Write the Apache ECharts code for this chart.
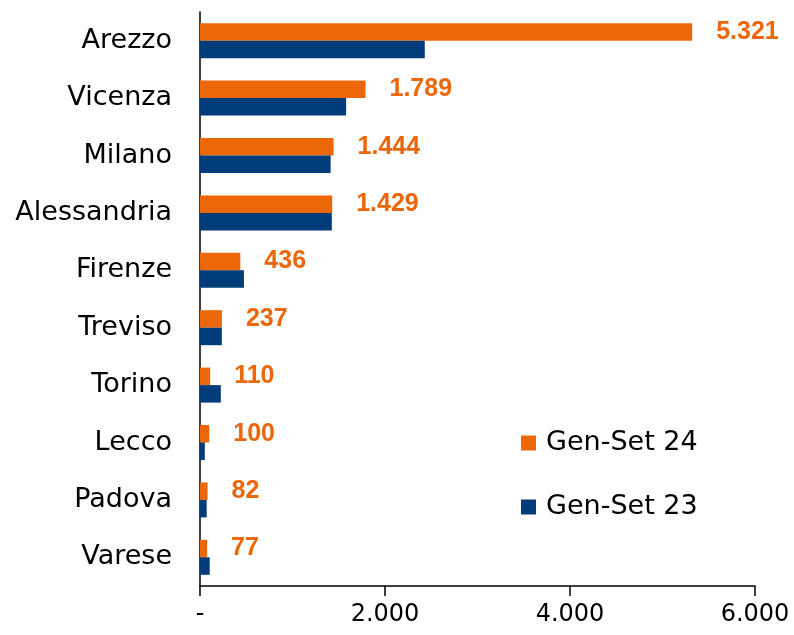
<!DOCTYPE html>
<html>
<head>
<meta charset="utf-8">
<script src="https://cdn.jsdelivr.net/npm/echarts@6/dist/echarts.min.js"></script>
<style>
  * { margin: 0; padding: 0; }
  body { background: #fff; }
</style>
</head>
<body>
<div id="main" style="width:794px;height:635px;"></div>
<script>
  // province, top to bottom
  var cities = ['Arezzo', 'Vicenza', 'Milano', 'Alessandria', 'Firenze', 'Treviso', 'Torino', 'Lecco', 'Padova', 'Varese'];
  var genSet24 = [5321, 1789, 1444, 1429, 436, 237, 110, 100, 82, 77];
  var genSet23 = [2430, 1580, 1412, 1425, 475, 236, 225, 52, 72, 105];
  var xTicks = [0, 2000, 4000, 6000];

  var orange = '#EC6707';
  var blue = '#003B7A';
  var font = 'DejaVu Sans';

  function fmt(v) {
    if (v === 0) return '-';
    return String(v).replace(/\B(?=(\d{3})+(?!\d))/g, '.');
  }

  var chart = echarts.init(document.getElementById('main'));
  chart.setOption({
    animation: false,
    grid: { left: 200, right: 39, top: 12, bottom: 49, containLabel: false },
    legend: {
      orient: 'vertical',
      left: 516,
      top: 423,
      icon: 'rect',
      itemWidth: 15,
      itemHeight: 15,
      itemGap: 34,
      textStyle: { fontFamily: font, fontSize: 27, color: '#000', lineHeight: 30, padding: [0, 0, 0, 5] },
      data: ['Gen-Set 24', 'Gen-Set 23']
    },
    xAxis: {
      type: 'value',
      min: xTicks[0],
      max: xTicks[xTicks.length - 1],
      interval: 2000,
      splitLine: { show: false },
      axisLine: { show: true, lineStyle: { color: '#000', width: 1.5 } },
      axisTick: { show: true, length: 10, lineStyle: { color: '#000', width: 1.5 } },
      axisLabel: { fontFamily: font, fontSize: 24, color: '#000', margin: 17, formatter: fmt }
    },
    yAxis: {
      type: 'category',
      inverse: true,
      data: cities,
      axisLine: { show: true, lineStyle: { color: '#000', width: 1.5 } },
      axisTick: { show: false },
      axisLabel: { fontFamily: font, fontSize: 27, color: '#000', margin: 28 }
    },
    series: [
      {
        name: 'Gen-Set 24',
        type: 'bar',
        data: genSet24,
        barGap: '0%',
        barCategoryGap: '39%',
        itemStyle: { color: orange },
        label: {
          show: true,
          position: 'right',
          distance: 24,
          color: orange,
          fontFamily: 'Liberation Sans',
          fontWeight: 'bold',
          fontSize: 25,
          formatter: function (p) { return fmt(p.value); }
        }
      },
      {
        name: 'Gen-Set 23',
        type: 'bar',
        data: genSet23,
        barGap: '0%',
        barCategoryGap: '39%',
        itemStyle: { color: blue }
      }
    ]
  });
</script>
</body>
</html>
